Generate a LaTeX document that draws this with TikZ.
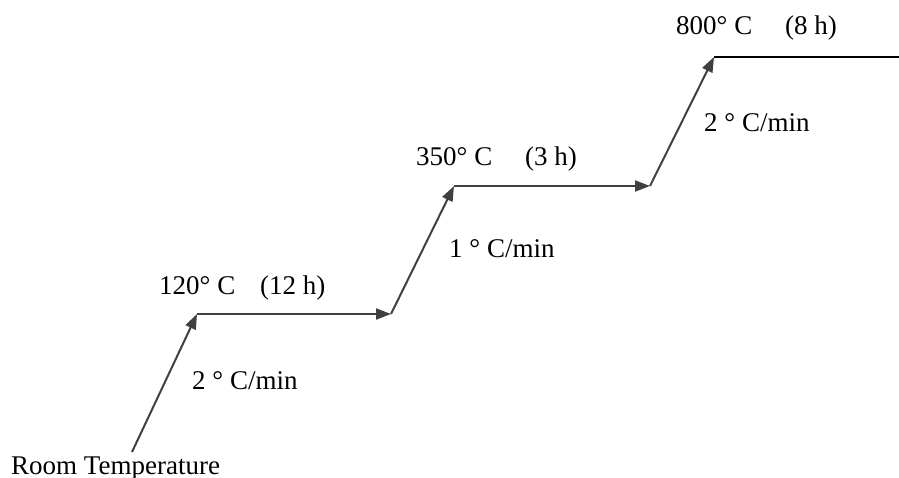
\documentclass[tikz,border=0pt]{standalone}
\usepackage{fontspec}
\setmainfont{Liberation Serif}
\usepackage{tikz}
\usetikzlibrary{arrows.meta,positioning,calc}
\definecolor{rampGray}{HTML}{404040}

\begin{document}
\begin{tikzpicture}[x=1pt,y=-1pt,
    ramp/.style={draw=rampGray,line width=2pt,-{Triangle[length=15pt,width=11pt]}},
    hold/.style={draw=black,line width=2pt},
    lbl/.style={inner sep=0pt,anchor=base west,font=\fontsize{27}{32}\selectfont}]
  \useasboundingbox (0,0) rectangle (899,477);
  % corners of the heating profile
  \coordinate (rt) at (132,452);
  \coordinate (t1a) at (197,314);
  \coordinate (t1b) at (391,314);
  \coordinate (t2a) at (454,186);
  \coordinate (t2b) at (650,186);
  \coordinate (t3a) at (714,57);
  \coordinate (t3b) at (899,57);

  \draw[ramp] (rt) -- (t1a);
  \draw[ramp] (t1a) -- (t1b);
  \draw[ramp] (t1b) -- (t2a);
  \draw[ramp] (t2a) -- (t2b);
  \draw[ramp] (t2b) -- (t3a);
  \draw[hold] (t3a) -- (t3b);

  % labels
  \node[lbl] (lroom) at (11,474) {Room Temperature};
  \node[lbl] (lr1) at (192,389) {2 ° C/min};
  \node[lbl] (lT1) at (159,294) {120° C};
  \node[lbl] (lh1) at (260,294) {(12 h)};
  \node[lbl] (lr2) at (449,257) {1 ° C/min};
  \node[lbl] (lT2) at (416,165) {350° C};
  \node[lbl] (lh2) at (525,165) {(3 h)};
  \node[lbl] (lr3) at (704,131) {2 ° C/min};
  \node[lbl] (lT3) at (676,34) {800° C};
  \node[lbl] (lh3) at (785,34) {(8 h)};
\end{tikzpicture}
\end{document}
